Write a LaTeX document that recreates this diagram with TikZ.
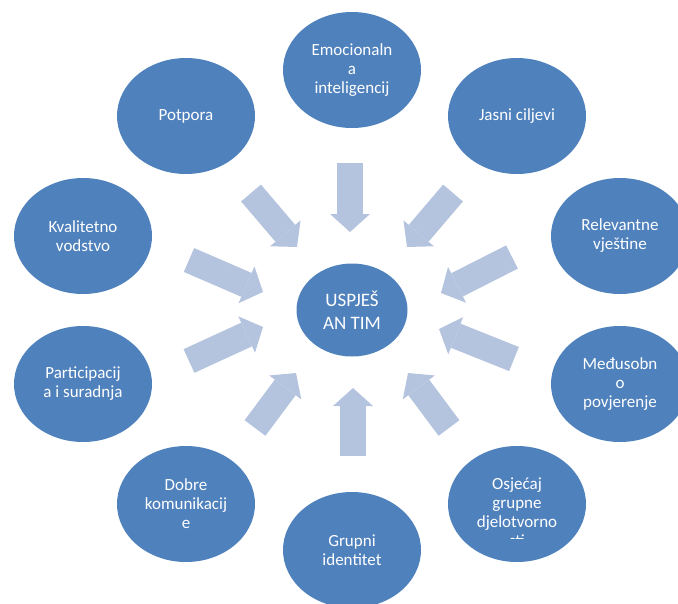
\documentclass[tikz,border=0pt]{standalone}
\usepackage{fontspec}
\setmainfont{Carlito}
\usetikzlibrary{shapes.geometric,arrows.meta}
\definecolor{bubblue}{RGB}{79,129,189}
\definecolor{arrblue}{RGB}{180,195,222}
\tikzset{
  bub/.style={ellipse, fill=bubblue, minimum width=138pt, minimum height=116pt,
    inner sep=0pt, text=white, align=center, font=\fontsize{17}{19}\selectfont},
  bubtext/.style={text=white, align=center, inner sep=0pt, font=\fontsize{17}{19}\selectfont},
  blockarrow/.style={draw=arrblue, line width=26pt,
    -{Triangle[width=40pt,length=18pt,line width=0pt]}}
}
\begin{document}
\begin{tikzpicture}[x=1pt,y=-1pt]
  \useasboundingbox (0,0) rectangle (678,603);
  \clip (0,0) rectangle (678,603);
  \node[bub, minimum width=111pt, minimum height=93pt, font=\fontsize{19}{23}\selectfont]
    (tim) at (352,310) {USPJEŠ\\AN TIM};
  \node[bub] (emo) at (352,70) {Emocionaln\\a\\inteligencij};
  \node[bub] (jasni) at (517,116) {Jasni ciljevi};
  \node[bub] (rel) at (620,236) {Relevantne\\vještine};
  \node[bub] (med) at (620,384) {Međusobn\\o\\povjerenje};
  \node[bub] (osj) at (517,504) {};
  \begin{scope}
    \clip (440,440) rectangle (600,538);
    \node[bubtext] (osjtxt) at (517,512) {Osjećaj\\grupne\\djelotvorno\\sti};
  \end{scope}
  \node[bub] (grup) at (352,550) {Grupni\\identitet};
  \node[bub] (dob) at (186,504) {Dobre\\komunikacij\\e};
  \node[bub] (part) at (83,384) {Participacij\\a i suradnja};
  \node[bub] (kval) at (83,236) {Kvalitetno\\vodstvo};
  \node[bub] (pot) at (186,116) {Potpora};
  \coordinate (a1) at (350,163);  \coordinate (b1) at (350,232);
  \coordinate (a2) at (453,193);  \coordinate (b2) at (407,247);
  \coordinate (a3) at (512,257);  \coordinate (b3) at (441,293);
  \coordinate (a4) at (514,359);  \coordinate (b4) at (439,329);
  \coordinate (a5) at (449,428);  \coordinate (b5) at (408,373);
  \coordinate (a6) at (353,456);  \coordinate (b6) at (353,388);
  \coordinate (a7) at (255,428);  \coordinate (b7) at (296,373);
  \coordinate (a8) at (189,361);  \coordinate (b8) at (263,327);
  \coordinate (a9) at (189,260);  \coordinate (b9) at (263,292);
  \coordinate (a10) at (251,193); \coordinate (b10) at (297,247);
  \foreach \i in {1,...,10}
    \draw[blockarrow] (a\i) -- (b\i);
\end{tikzpicture}
\end{document}
